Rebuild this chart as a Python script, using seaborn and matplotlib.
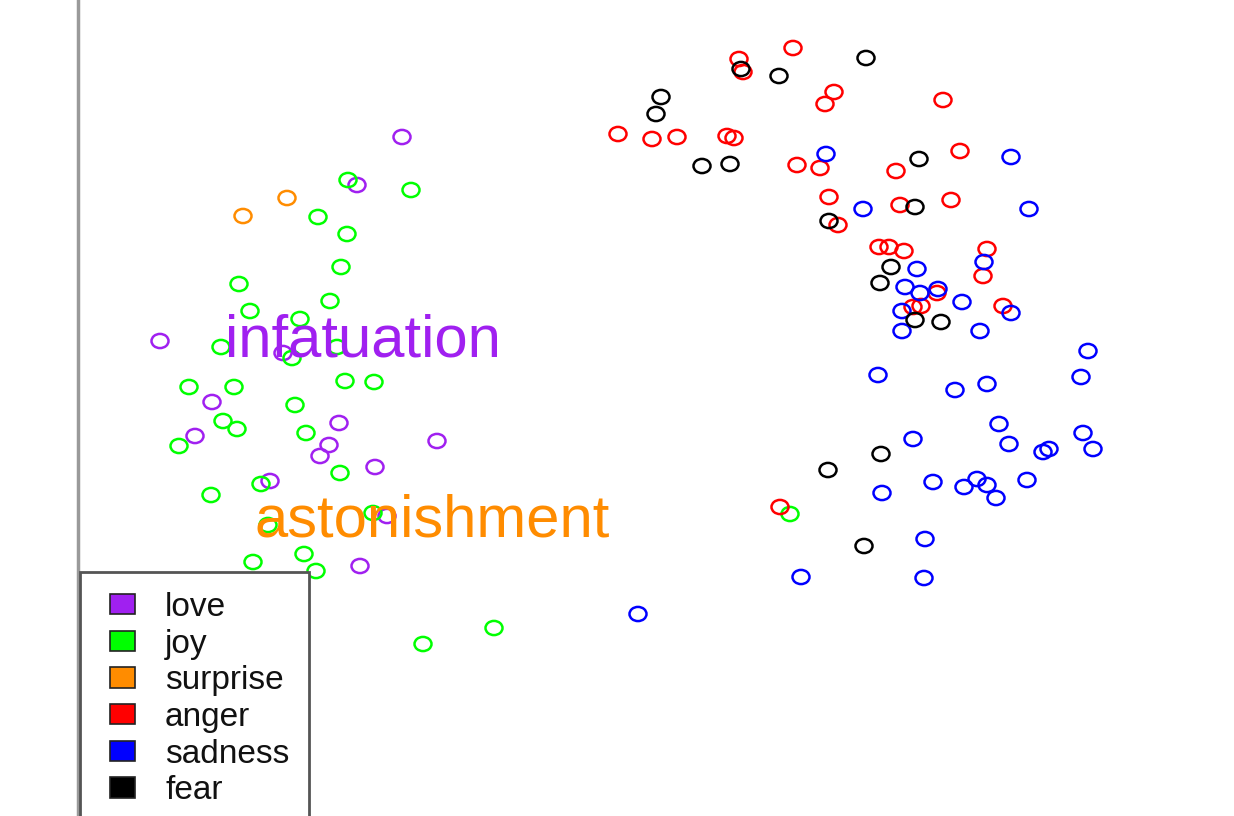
import numpy as np
import pandas as pd
import matplotlib
matplotlib.use("Agg")
import matplotlib.pyplot as plt
from matplotlib.patches import Patch, Rectangle
from matplotlib.legend_handler import HandlerPatch
from matplotlib.path import Path
import seaborn as sns

# 2-D embedding coordinates of each emotion word (y grows downward)
love_x = [402, 357, 160, 283, 212, 195, 339, 329, 320, 437, 375, 270, 387, 360]
love_y = [137, 185, 341, 353, 402, 436, 423, 445, 456, 441, 467, 481, 516, 566]

joy_x = [348, 411, 318, 347, 341, 239, 330, 250, 300, 221, 292, 337, 189, 234, 345, 374,
         295, 223, 237, 179, 306, 340, 261, 211, 373, 268, 253, 304, 316, 494, 423, 790]
joy_y = [180, 190, 217, 234, 267, 284, 301, 311, 319, 347, 358, 347, 387, 387, 381, 382,
         405, 421, 429, 446, 433, 473, 484, 495, 513, 525, 562, 554, 571, 628, 644, 514]

surprise_x = [287, 243]
surprise_y = [198, 216]

anger_x = [739, 743, 793, 618, 652, 677, 727, 734, 834, 825, 797, 820, 960, 896, 829, 900,
           951, 838, 879, 889, 904, 987, 983, 937, 913, 921, 1003, 943, 780]
anger_y = [59, 72, 48, 134, 139, 137, 136, 138, 92, 104, 165, 168, 151, 171, 197, 205,
           200, 225, 247, 247, 251, 249, 276, 293, 307, 306, 306, 100, 507]

sadness_x = [826, 1011, 863, 1029, 917, 984, 905, 920, 938, 962, 902, 902, 980, 1011, 1088,
             878, 955, 987, 1081, 999, 913, 1009, 1043, 1049, 1083, 1093, 933, 964, 977, 987,
             996, 1027, 882, 925, 801, 924, 638]
sadness_y = [154, 157, 209, 209, 269, 262, 287, 293, 289, 302, 311, 331, 331, 313, 351,
             375, 390, 384, 377, 424, 439, 444, 452, 449, 433, 449, 482, 487, 479, 485,
             498, 480, 493, 539, 577, 578, 614]

fear_x = [741, 866, 779, 661, 656, 702, 730, 919, 915, 829, 891, 880, 915, 941, 881, 828, 864]
fear_y = [69, 58, 76, 97, 114, 166, 164, 159, 207, 221, 267, 283, 320, 322, 454, 470, 546]

emotions = ["love", "joy", "surprise", "anger", "sadness", "fear"]
colors = ["#A020F0", "#00FF00", "#FF8C00", "#FF0000", "#0000FF", "#000000"]

# annotation words and their positions
words = ["infatuation", "astonishment"]
word_x = [363, 432]
word_y = [341, 521]
word_colors = ["#A020F0", "#FF8C00"]

series = {
    "love": (love_x, love_y),
    "joy": (joy_x, joy_y),
    "surprise": (surprise_x, surprise_y),
    "anger": (anger_x, anger_y),
    "sadness": (sadness_x, sadness_y),
    "fear": (fear_x, fear_y),
}
df = pd.concat(
    [pd.DataFrame({"x": xs, "y": ys, "emotion": name}) for name, (xs, ys) in series.items()],
    ignore_index=True,
)

sns.set_theme(style="white")
plt.rcParams["font.family"] = ["Liberation Sans", "DejaVu Sans"]

W, H = 1234, 816
fig = plt.figure(figsize=(W / 100, H / 100), dpi=100)
left = 78
ax = fig.add_axes([left / W, 0, 1 - left / W, 1])

# slightly wide open ellipse marker
circ = Path.unit_circle()
ellipse = Path(circ.vertices * np.array([1.2, 1.0]), circ.codes)

sns.scatterplot(data=df, x="x", y="y", hue="emotion", hue_order=emotions,
                palette=dict(zip(emotions, colors)), marker=ellipse, s=150,
                linewidth=1.8, legend=False, ax=ax)
pts = ax.collections[-1]
pts.set_edgecolors(pts.get_facecolors())
pts.set_facecolors("none")

ax.set_xlim(left, W)
ax.set_ylim(H, 0)
ax.set_xlabel("")
ax.set_ylabel("")
ax.set_xticks([])
ax.set_yticks([])
for side in ["top", "right", "bottom"]:
    ax.spines[side].set_visible(False)
ax.spines["left"].set_color("#9a9a9a")
ax.spines["left"].set_linewidth(2.5)

for w, wx, wy, wc in zip(words, word_x, word_y, word_colors):
    ax.text(wx, wy, w, color=wc, fontsize=43, ha="center", va="center")


def inset_square(legend, orig_handle, xdescent, ydescent, width, height, fontsize):
    # colour key drawn a little in from the left edge of its slot
    off = 0.3 * fontsize
    return Rectangle((-xdescent + off, -ydescent), width - off, height)


handles = [Patch(facecolor=c, edgecolor="#222222", linewidth=1.2) for c in colors]
leg = ax.legend(handles, emotions, loc="upper left",
                bbox_to_anchor=(80 / W, 1 - 572 / H), bbox_transform=fig.transFigure,
                fontsize=24, frameon=True, fancybox=False, borderpad=0.6,
                borderaxespad=0, handlelength=1.05, handleheight=0.55,
                handletextpad=0.9, labelspacing=0.17,
                handler_map={Patch: HandlerPatch(patch_func=inset_square)})
frame = leg.get_frame()
frame.set_edgecolor("#555555")
frame.set_linewidth(2)
frame.set_facecolor("white")
frame.set_alpha(1)
for t in leg.get_texts():
    t.set_color("#111111")

fig.savefig("out.png", dpi=100)
